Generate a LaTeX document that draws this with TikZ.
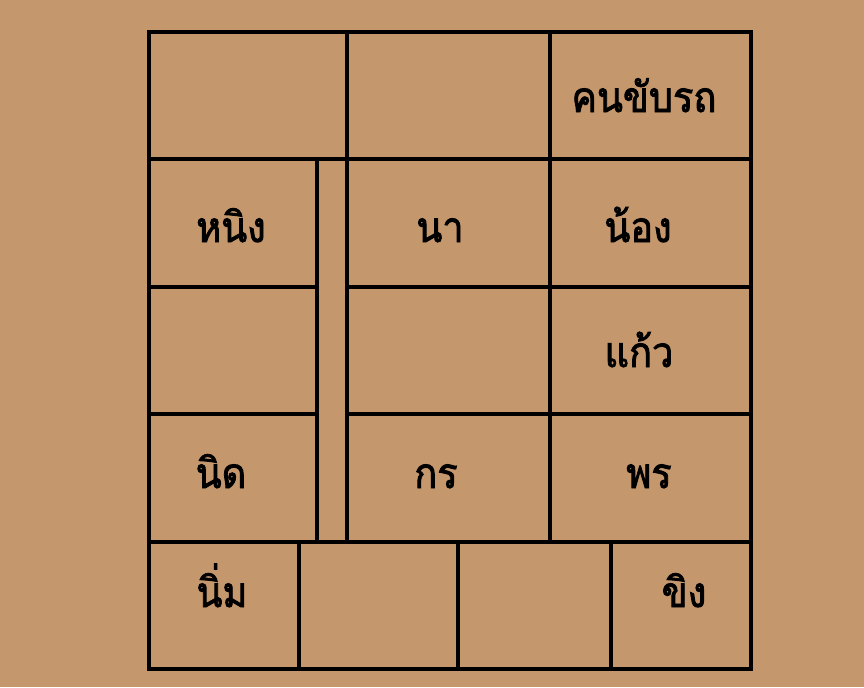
\documentclass[tikz,border=0pt]{standalone}
\usepackage{fontspec}
\newfontfamily\thaifont[Script=Thai, FakeStretch=0.9, FakeBold=2]{Loma}
\definecolor{bgtan}{RGB}{196,151,108}
\tikzset{
    seatline/.style={draw=black, line width=2.6pt},
    seatname/.style={anchor=base, inner sep=0pt, font=\thaifont\fontsize{36}{38}\selectfont}
}
\begin{document}
\begin{tikzpicture}[x=0.03cm, y=-0.03cm]
% background and picture size
\fill[bgtan] (0,0) rectangle (864,687);
\useasboundingbox (0,0) rectangle (864,687);
% front row
\foreach \xa/\xb in {149/347, 347/550, 550/751}
    \draw[seatline] (\xa,32) rectangle (\xb,159);
% middle rows with the aisle
\foreach \ya/\yb in {159/287, 287/414, 414/542} {
    \draw[seatline] (149,\ya) rectangle (317,\yb);
    \draw[seatline] (347,\ya) rectangle (550,\yb);
    \draw[seatline] (550,\ya) rectangle (751,\yb);
}
\draw[seatline] (317,159) rectangle (347,542);
% back row
\foreach \xa/\xb in {149/299, 299/458, 458/611, 611/751}
    \draw[seatline] (\xa,542) rectangle (\xb,669);
% names
\node[seatname] (driver) at (644,112) {คนขับรถ};
\node[seatname] (ning) at (231,242) {หนิง};
\node[seatname] (na) at (440,242) {นา};
\node[seatname] (nong) at (638,242) {น้อง};
\node[seatname] (kaew) at (639,367) {แก้ว};
\node[seatname] (nid) at (221,488) {นิด};
\node[seatname] (korn) at (436,488) {กร};
\node[seatname] (porn) at (649,488) {พร};
\node[seatname] (nim) at (222,607) {นิ่ม};
\node[seatname] (khing) at (684,607) {ขิง};
\end{tikzpicture}
\end{document}
